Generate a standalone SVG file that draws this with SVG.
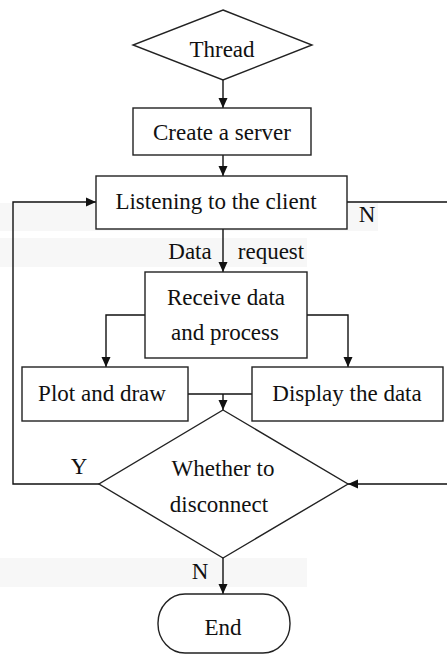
<svg xmlns="http://www.w3.org/2000/svg" width="447" height="655" viewBox="0 0 447 655">
<style>
.shape{fill:#fff;stroke:#222;stroke-width:1.4}
.conn{fill:none;stroke:#111;stroke-width:1.4}
text{font-family:"Liberation Serif","Times New Roman",serif;font-size:23px;fill:#111;text-anchor:middle}
.band{fill:#f7f7f7}
</style>
<defs>
<marker id="arr" markerUnits="userSpaceOnUse" markerWidth="10" markerHeight="10" viewBox="0 0 10 10" refX="10" refY="5" orient="auto">
<path d="M0,0.5 L10,5 L0,9.5 z" fill="#111"/>
</marker>
</defs>
<rect width="447" height="655" fill="#fff"/>
<g id="bands">
<rect class="band" x="0" y="203" width="378" height="28"/>
<rect class="band" x="0" y="238" width="307" height="29"/>
<rect class="band" x="0" y="558" width="307" height="29"/>
</g>
<g id="connectors">
<path class="conn" d="M223,80 V108" marker-end="url(#arr)"/>
<path class="conn" d="M223,155 V176" marker-end="url(#arr)"/>
<path class="conn" d="M99,484 H13 V202 H96" marker-end="url(#arr)"/>
<path class="conn" d="M347,202 H452 V484 H348" marker-end="url(#arr)"/>
<path class="conn" d="M223,229 V272" marker-end="url(#arr)"/>
<path class="conn" d="M145,315 H106 V367" marker-end="url(#arr)"/>
<path class="conn" d="M307,315 H348 V367" marker-end="url(#arr)"/>
<path class="conn" d="M188,394 H252"/>
<path class="conn" d="M223,394 V410" marker-end="url(#arr)"/>
<path class="conn" d="M223,558 V594" marker-end="url(#arr)"/>
<text x="367" y="222">N</text>
<text x="190" y="259">Data</text>
<text x="271" y="259">request</text>
<text x="79" y="474">Y</text>
<text x="200" y="579">N</text>
</g>
<g id="thread">
<polygon class="shape" points="223,10 312,45 223,80 133,45"/>
<text x="222" y="57">Thread</text>
</g>
<g id="create-server">
<rect class="shape" x="133" y="108" width="178" height="47"/>
<text x="222" y="140">Create a server</text>
</g>
<g id="listening">
<rect class="shape" x="96" y="176" width="251" height="53"/>
<text x="216" y="209">Listening to the client</text>
</g>
<g id="receive">
<rect class="shape" x="145" y="272" width="162" height="86"/>
<text x="226" y="305">Receive data</text>
<text x="225" y="340">and process</text>
</g>
<g id="plot">
<rect class="shape" x="22" y="367" width="166" height="54"/>
<text x="102" y="401">Plot and draw</text>
</g>
<g id="display">
<rect class="shape" x="252" y="367" width="191" height="54"/>
<text x="347" y="401">Display the data</text>
</g>
<g id="decision">
<polygon class="shape" points="223,410 348,484 223,558 99,484"/>
<text x="223" y="476">Whether to</text>
<text x="219" y="512">disconnect</text>
</g>
<g id="end">
<rect class="shape" x="158" y="594" width="132" height="59" rx="27" ry="29"/>
<text x="223" y="635">End</text>
</g>
</svg>
